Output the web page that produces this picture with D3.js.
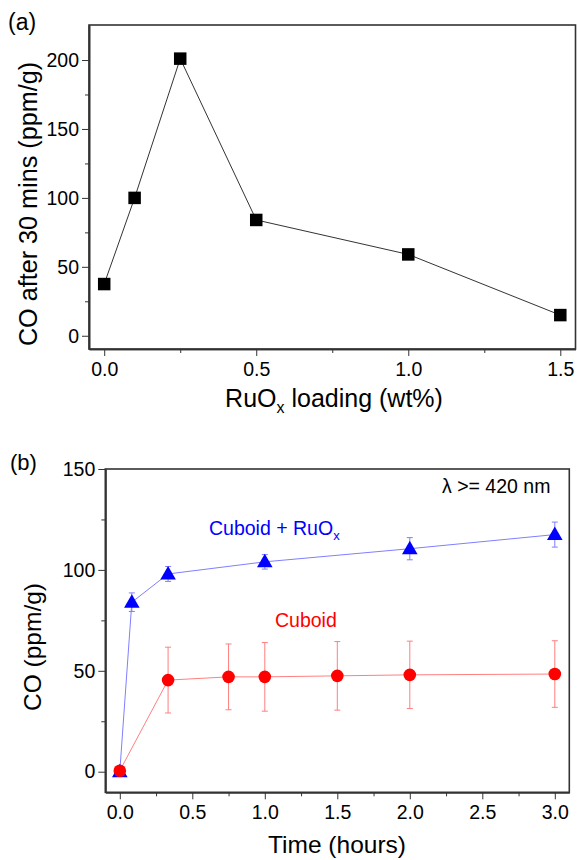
<!DOCTYPE html>
<html>
<head>
<meta charset="utf-8">
<script src="https://cdn.jsdelivr.net/npm/d3@7"></script>
<style>
  body { margin: 0; background: #fff; }
  svg { font-family: Arial, "Liberation Sans", sans-serif; }
</style>
</head>
<body>
<svg width="577" height="860"></svg>
<script>
// panel (a) data
const loading = [0.0, 0.1, 0.25, 0.5, 1.0, 1.5];
const coAfter30 = [37.5, 100, 201, 84, 59, 15];
const aXTicks = [0.0, 0.5, 1.0, 1.5];
const aYTicks = [0, 50, 100, 150, 200];

// panel (b) data
const timeRu = [0, 0.083, 0.333, 1.0, 2.0, 3.0];
const coRu = [0, 84, 98, 104, 110.5, 117.5];
const errRu = [2, 4.6, 3.7, 3.6, 5.5, 6.2];
const timeCub = [0, 0.333, 0.75, 1.0, 1.5, 2.0, 3.0];
const coCub = [0.5, 45.4, 47, 47, 47.5, 48, 48.4];
const errCub = [1.5, 16.3, 16.3, 17, 17, 16.7, 16.5];
const bXTicks = [0.0, 0.5, 1.0, 1.5, 2.0, 2.5, 3.0];
const bYTicks = [0, 50, 100, 150];

const svg = d3.select("svg");

function styleAxis(sel) {
    sel.attr("font-family", "Arial, 'Liberation Sans', sans-serif");
    sel.selectAll("path, line").attr("stroke", "#333");
    sel.select("path").attr("stroke-width", 1.6);
    sel.selectAll("text").attr("fill", "#000").style("font-size", "19.5px");
}

function frame(g, x, y, xTicks, xMinor, yTicks, yMinor, fmtX) {
    const [x0, x1] = x.range();
    const [y0, y1] = y.range();
    g.append("g")
        .attr("transform", `translate(0,${y0})`)
        .call(d3.axisBottom(x).tickValues(xTicks).tickSize(7).tickSizeOuter(0).tickPadding(6).tickFormat(fmtX))
        .call(styleAxis);
    g.append("g")
        .attr("transform", `translate(0,${y0})`)
        .call(d3.axisBottom(x).tickValues(xMinor).tickSize(4).tickSizeOuter(0).tickFormat(""))
        .call(styleAxis);
    g.append("g")
        .attr("transform", `translate(${x0},0)`)
        .call(d3.axisLeft(y).tickValues(yTicks).tickSize(7).tickSizeOuter(0).tickPadding(3).tickFormat(d3.format("d")))
        .call(styleAxis);
    g.append("g")
        .attr("transform", `translate(${x0},0)`)
        .call(d3.axisLeft(y).tickValues(yMinor).tickSize(4).tickSizeOuter(0).tickFormat(""))
        .call(styleAxis);
    g.append("rect")
        .attr("x", x0).attr("y", y1)
        .attr("width", x1 - x0).attr("height", y0 - y1)
        .attr("fill", "none").attr("stroke", "#333").attr("stroke-width", 1.6);
}

// ---------- panel (a) ----------
const xa = d3.scaleLinear().domain([-0.05, 1.55]).range([89, 575.5]);
const ya = d3.scaleLinear().domain([-9.6, 225.4]).range([349, 25]);
const ga = svg.append("g");

frame(ga, xa, ya, aXTicks, [0.25, 0.75, 1.25], aYTicks, [25, 75, 125, 175], d3.format(".1f"));

const ptsA = loading.map((d, i) => [d, coAfter30[i]]);
ga.append("path")
    .attr("d", d3.line().x(d => xa(d[0])).y(d => ya(d[1]))(ptsA))
    .attr("fill", "none").attr("stroke", "#333").attr("stroke-width", 1);
ga.selectAll("rect.pt").data(ptsA).enter().append("rect")
    .attr("class", "pt")
    .attr("x", d => xa(d[0]) - 6.25).attr("y", d => ya(d[1]) - 6.25)
    .attr("width", 12.5).attr("height", 12.5).attr("fill", "#000");

ga.append("text").attr("x", 8).attr("y", 30).attr("font-size", 23).text("(a)");
ga.append("text")
    .attr("transform", `translate(37,204) rotate(-90)`)
    .attr("text-anchor", "middle").attr("font-size", 25.2)
    .text("CO after 30 mins (ppm/g)");
const xla = ga.append("text").attr("x", 334).attr("y", 407)
    .attr("text-anchor", "middle").attr("font-size", 25);
xla.append("tspan").text("RuO");
xla.append("tspan").attr("font-size", 16).attr("dy", 6).text("x");
xla.append("tspan").attr("dy", -6).text(" loading (wt%)");

// ---------- panel (b) ----------
const xb = d3.scaleLinear().domain([-0.1, 3.1]).range([105.3, 569.3]);
const yb = d3.scaleLinear().domain([-10.2, 150]).range([792.3, 469]);
const gb = svg.append("g");

frame(gb, xb, yb, bXTicks, [0.25, 0.75, 1.25, 1.75, 2.25, 2.75], bYTicks, [25, 75, 125], d3.format(".1f"));

function series(g, t, v, e, lineCol, col, shape) {
    const pts = t.map((d, i) => ({ t: d, v: v[i], e: e[i] }));
    g.append("path")
        .attr("d", d3.line().x(d => xb(d.t)).y(d => yb(d.v))(pts))
        .attr("fill", "none").attr("stroke", lineCol).attr("stroke-width", 1);
    const eb = g.append("g").attr("stroke", lineCol).attr("stroke-width", 1);
    pts.forEach(d => {
        const cx = xb(d.t);
        eb.append("line").attr("x1", cx).attr("x2", cx).attr("y1", yb(d.v - d.e)).attr("y2", yb(d.v + d.e));
        eb.append("line").attr("x1", cx - 3).attr("x2", cx + 3).attr("y1", yb(d.v - d.e)).attr("y2", yb(d.v - d.e));
        eb.append("line").attr("x1", cx - 3).attr("x2", cx + 3).attr("y1", yb(d.v + d.e)).attr("y2", yb(d.v + d.e));
    });
    const sym = d3.symbol().type(shape).size(shape === d3.symbolCircle ? 125 : 105);
    g.selectAll(null).data(pts).enter().append("path")
        .attr("d", sym)
        .attr("transform", d => `translate(${xb(d.t)},${yb(d.v) + (shape === d3.symbolTriangle ? 1 : 0)})`)
        .attr("fill", col);
}

series(gb, timeRu, coRu, errRu, "#7f7fff", "#0000ff", d3.symbolTriangle);
series(gb, timeCub, coCub, errCub, "#ff7f7f", "#ff0000", d3.symbolCircle);

gb.append("text").attr("x", 10).attr("y", 470).attr("font-size", 22).text("(b)");
gb.append("text")
    .attr("transform", `translate(41,647) rotate(-90)`)
    .attr("text-anchor", "middle").attr("font-size", 24.5)
    .text("CO (ppm/g)");
gb.append("text").attr("x", 337).attr("y", 853)
    .attr("text-anchor", "middle").attr("font-size", 24.5).text("Time (hours)");

gb.append("text").attr("x", 442).attr("y", 493).attr("font-size", 19.5).text("λ >= 420 nm");
const lr = gb.append("text").attr("x", 209).attr("y", 535).attr("font-size", 19.5).attr("fill", "#0000ff");
lr.append("tspan").text("Cuboid + RuO");
lr.append("tspan").attr("font-size", 13).attr("dy", 5).text("x");
gb.append("text").attr("x", 275).attr("y", 627).attr("font-size", 19.5).attr("fill", "#ff0000").text("Cuboid");
</script>
</body>
</html>
